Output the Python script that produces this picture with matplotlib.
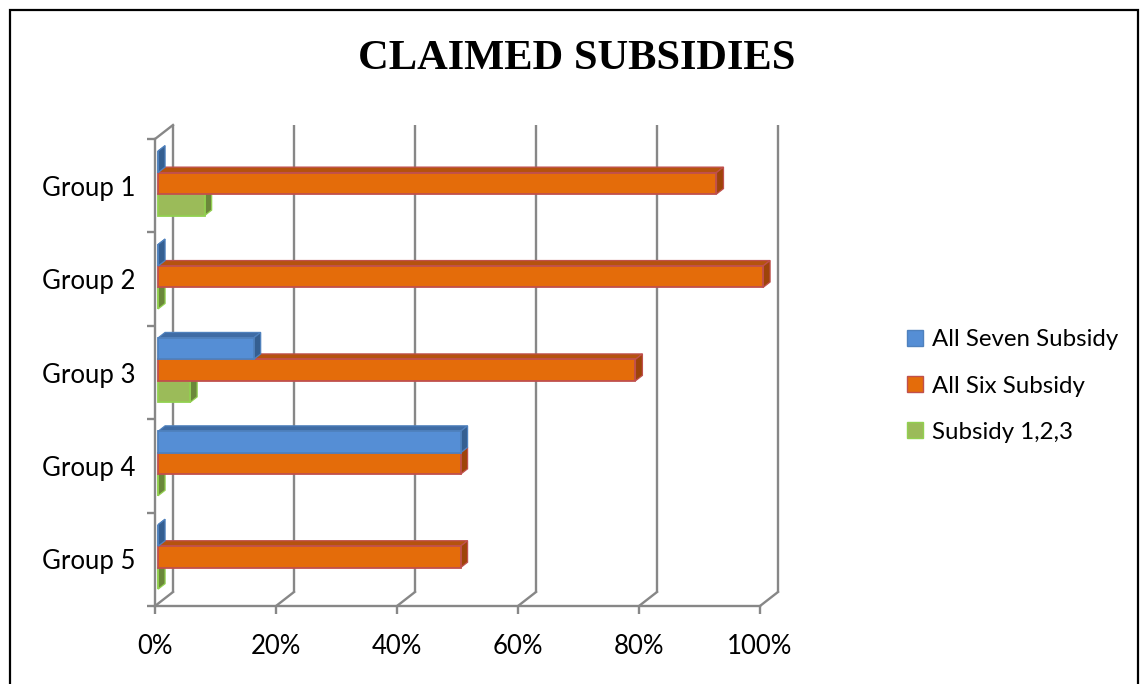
import matplotlib
matplotlib.use("Agg")
import matplotlib.pyplot as plt
from matplotlib.patches import Polygon, Patch, Rectangle

# ---- data (percent of respondents) ----
groups = ["Group 1", "Group 2", "Group 3", "Group 4", "Group 5"]
series_names = ["All Seven Subsidy", "All Six Subsidy", "Subsidy 1,2,3"]
all_seven = [0.0, 0.0, 15.8, 50.0, 0.0]
all_six = [92.3, 100.0, 78.9, 50.0, 50.0]
subsidy_123 = [7.7, 0.0, 5.3, 0.0, 0.0]
x_ticks = [0, 20, 40, 60, 80, 100]
x_tick_labels = ["0%", "20%", "40%", "60%", "80%", "100%"]

# ---- styles ----
styles = {
    "All Seven Subsidy": dict(front="#558ED5", top="#3F6CA5", side="#355F91", edge="#4F81BD"),
    "All Six Subsidy": dict(front="#E46C0A", top="#B5530E", side="#9E4409", edge="#C0504D"),
    "Subsidy 1,2,3": dict(front="#9BBB59", top="#7F9B47", side="#6B873A", edge="#92D050"),
}
grid_color = "#878787"
label_font = ["Lato", "DejaVu Sans"]
axis_fs = 18.5
legend_fs = 17.3

W, H = 1140, 684
fig = plt.figure(figsize=(W / 100, H / 100), dpi=100)
fig.patch.set_facecolor("white")

# outer frame of the chart area
fig.add_artist(Rectangle((10 / W, -0.05), (1138 - 10) / W, 1.05 - 10 / H,
                         transform=fig.transFigure, fill=False,
                         edgecolor="black", linewidth=1.6))

# front plane of the 3-D plot box
ax = fig.add_axes([155 / W, (H - 606) / H, 605 / W, (606 - 139) / H])
ax.set_xlim(0, 100)
ax.set_ylim(len(groups), 0)
ax.set_facecolor("none")

# depth offsets of the back wall (data units)
DX = 18 / 605 * 100
DY = -14 / (467 / len(groups))

# back wall gridlines and floor diagonals
for t in x_ticks:
    ax.plot([t + DX, t + DX], [DY, len(groups) + DY], color=grid_color,
            lw=1.7, clip_on=False, zorder=1, solid_capstyle="butt")
    ax.plot([t, t + DX], [len(groups), len(groups) + DY], color=grid_color,
            lw=1.7, clip_on=False, zorder=1)
ax.plot([0, DX], [0, DY], color=grid_color, lw=1.7, clip_on=False, zorder=1)

# axes lines and ticks
for side in ("top", "right"):
    ax.spines[side].set_visible(False)
for side in ("left", "bottom"):
    ax.spines[side].set_color(grid_color)
    ax.spines[side].set_linewidth(1.7)
    ax.spines[side].set_zorder(1)

ax.set_xticks(x_ticks)
ax.set_xticklabels(x_tick_labels, fontsize=axis_fs, family=label_font)
ax.tick_params(axis="x", direction="out", length=6, width=1.7,
               color=grid_color, pad=14)
ax.set_yticks(range(len(groups) + 1))
ax.set_yticklabels([])
ax.set_yticks([i + 0.5 for i in range(len(groups))], minor=True)
ax.set_yticklabels(groups, minor=True, fontsize=axis_fs, family=label_font)
ax.tick_params(axis="y", which="major", direction="out", length=6,
               width=1.7, color=grid_color)
ax.tick_params(axis="y", which="minor", length=0, pad=14)


def bar3d(value, yc, h, st, z):
    d0, d1 = 0.17, 0.56
    x0 = d0 * DX
    x1 = value + d0 * DX
    ytop = yc - h / 2 + d0 * DY
    ybot = yc + h / 2 + d0 * DY
    bx, by = (d1 - d0) * DX, (d1 - d0) * DY
    top = [(x0, ytop), (x1, ytop), (x1 + bx, ytop + by), (x0 + bx, ytop + by)]
    side = [(x1, ytop), (x1, ybot), (x1 + bx, ybot + by), (x1 + bx, ytop + by)]
    front = [(x0, ytop), (x1, ytop), (x1, ybot), (x0, ybot)]
    ax.add_patch(Polygon(top, closed=True, facecolor=st["top"],
                         edgecolor=st["edge"], lw=0.9, zorder=z, clip_on=False))
    ax.add_patch(Polygon(side, closed=True, facecolor=st["side"],
                         edgecolor=st["edge"], lw=0.9, zorder=z, clip_on=False))
    ax.add_patch(Polygon(front, closed=True, facecolor=st["front"],
                         edgecolor=st["edge"], lw=1.3, zorder=z + 0.1,
                         clip_on=False))


h = 0.23
series = [(all_seven, -h), (all_six, 0.0), (subsidy_123, h)]
for gi in range(len(groups)):
    yc = gi + 0.5
    # lower bars first so the bar above hides their top face
    for si in (2, 1, 0):
        vals, off = series[si]
        bar3d(vals[gi], yc + off, h, styles[series_names[si]], 3 + (2 - si))

# title
fig.text(577 / W, 1 - 69 / H, "CLAIMED SUBSIDIES", ha="center", va="baseline",
         fontsize=30.6, fontweight="bold", family="Liberation Serif")

# legend
handles = [Patch(facecolor=styles[n]["front"], edgecolor=styles[n]["edge"],
                 lw=1.0) for n in series_names]
fig.legend(handles, series_names, loc="center left",
           bbox_to_anchor=(907 / W, 1 - 386 / H), frameon=False,
           prop=dict(family=label_font, size=legend_fs),
           handlelength=0.65, handleheight=0.65, handletextpad=0.4,
           labelspacing=1.05, borderaxespad=0, borderpad=0)

fig.savefig("out.png", dpi=100, facecolor="white")
